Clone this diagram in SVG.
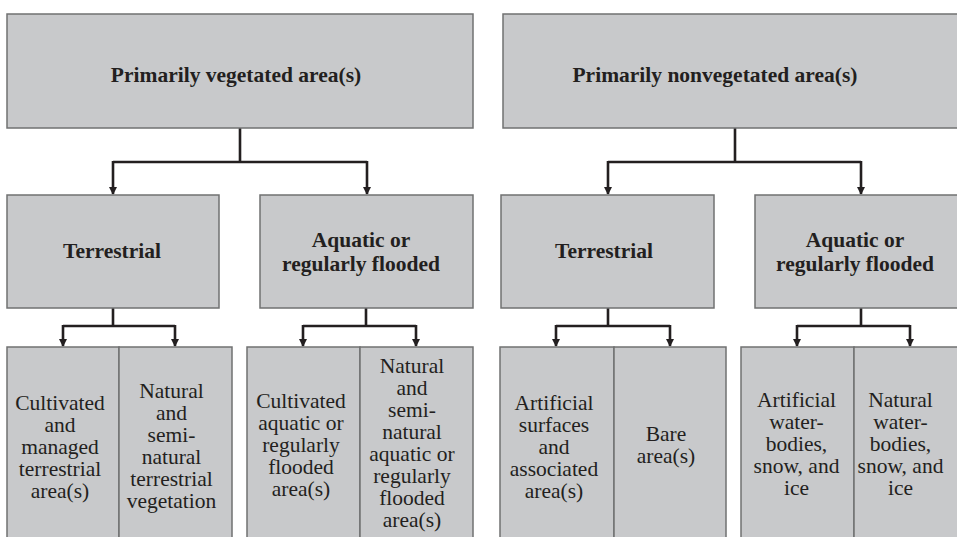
<svg xmlns="http://www.w3.org/2000/svg" width="957" height="537" viewBox="0 0 957 537">
<style>
.box{fill:#c8c9cb;stroke:#707172;stroke-width:1.5}
.h{font-family:"Liberation Serif","Times New Roman",serif;font-weight:bold;font-size:21.5px;fill:#231f20;text-anchor:middle}
.t{font-family:"Liberation Serif","Times New Roman",serif;font-size:21.5px;fill:#231f20;text-anchor:middle}
.c{fill:none;stroke:#231f20;stroke-width:2.6}
</style>
<defs>
<marker id="ah" markerWidth="8" markerHeight="8" refX="7" refY="4" orient="auto" markerUnits="userSpaceOnUse">
<path d="M0,0 L8,4 L0,8 Z" fill="#231f20"/>
</marker>
</defs>
<rect width="957" height="537" fill="#ffffff"/>
<g id="connectors">
<path class="c" d="M240,128 V162 M113,162 H367"/>
<path class="c" d="M113,161 V194" marker-end="url(#ah)"/>
<path class="c" d="M367,161 V194" marker-end="url(#ah)"/>
<path class="c" d="M735,128 V162 M608,162 H861"/>
<path class="c" d="M608,161 V194" marker-end="url(#ah)"/>
<path class="c" d="M861,161 V194" marker-end="url(#ah)"/>
<path class="c" d="M113,308 V326 M63,326 H175"/>
<path class="c" d="M63,325 V346" marker-end="url(#ah)"/>
<path class="c" d="M175,325 V346" marker-end="url(#ah)"/>
<path class="c" d="M366,308 V326 M303,326 H416"/>
<path class="c" d="M303,325 V346" marker-end="url(#ah)"/>
<path class="c" d="M416,325 V346" marker-end="url(#ah)"/>
<path class="c" d="M608,308 V326 M556,326 H670"/>
<path class="c" d="M556,325 V346" marker-end="url(#ah)"/>
<path class="c" d="M670,325 V346" marker-end="url(#ah)"/>
<path class="c" d="M861,308 V326 M797,326 H910"/>
<path class="c" d="M797,325 V346" marker-end="url(#ah)"/>
<path class="c" d="M910,325 V346" marker-end="url(#ah)"/>
</g>
<g id="veg">
<rect class="box" x="7" y="14" width="466" height="114"/>
<text class="h" x="236" y="82">Primarily vegetated area(s)</text>
</g>
<g id="nonveg">
<rect class="box" x="503" y="14" width="470" height="114"/>
<text class="h" x="715" y="82">Primarily nonvegetated area(s)</text>
</g>
<g id="veg-terr">
<rect class="box" x="7" y="195" width="212" height="113"/>
<text class="h" x="112" y="258">Terrestrial</text>
</g>
<g id="veg-aqua">
<rect class="box" x="260" y="195" width="213" height="113"/>
<text class="h" x="361" y="247">Aquatic or</text>
<text class="h" x="361" y="271">regularly flooded</text>
</g>
<g id="nonveg-terr">
<rect class="box" x="501" y="195" width="213" height="113"/>
<text class="h" x="604" y="258">Terrestrial</text>
</g>
<g id="nonveg-aqua">
<rect class="box" x="755" y="195" width="218" height="113"/>
<text class="h" x="855" y="247">Aquatic or</text>
<text class="h" x="855" y="271">regularly flooded</text>
</g>
<g id="b1">
<rect class="box" x="7" y="347" width="112" height="200"/>
<text class="t" x="60" y="410">Cultivated</text>
<text class="t" x="60" y="432">and</text>
<text class="t" x="60" y="454">managed</text>
<text class="t" x="60" y="476">terrestrial</text>
<text class="t" x="60" y="498">area(s)</text>
</g>
<g id="b2">
<rect class="box" x="119" y="347" width="113" height="200"/>
<text class="t" x="171.5" y="398">Natural</text>
<text class="t" x="171.5" y="420">and</text>
<text class="t" x="171.5" y="442">semi-</text>
<text class="t" x="171.5" y="464">natural</text>
<text class="t" x="171.5" y="486">terrestrial</text>
<text class="t" x="171.5" y="508">vegetation</text>
</g>
<g id="b3">
<rect class="box" x="247" y="347" width="113" height="200"/>
<text class="t" x="301" y="408">Cultivated</text>
<text class="t" x="301" y="430">aquatic or</text>
<text class="t" x="301" y="452">regularly</text>
<text class="t" x="301" y="474">flooded</text>
<text class="t" x="301" y="496">area(s)</text>
</g>
<g id="b4">
<rect class="box" x="360" y="347" width="113" height="200"/>
<text class="t" x="412" y="373">Natural</text>
<text class="t" x="412" y="395">and</text>
<text class="t" x="412" y="417">semi-</text>
<text class="t" x="412" y="439">natural</text>
<text class="t" x="412" y="461">aquatic or</text>
<text class="t" x="412" y="483">regularly</text>
<text class="t" x="412" y="505">flooded</text>
<text class="t" x="412" y="527">area(s)</text>
</g>
<g id="b5">
<rect class="box" x="500" y="347" width="114" height="200"/>
<text class="t" x="554" y="410">Artificial</text>
<text class="t" x="554" y="432">surfaces</text>
<text class="t" x="554" y="454">and</text>
<text class="t" x="554" y="476">associated</text>
<text class="t" x="554" y="498">area(s)</text>
</g>
<g id="b6">
<rect class="box" x="614" y="347" width="112" height="200"/>
<text class="t" x="666" y="441">Bare</text>
<text class="t" x="666" y="463">area(s)</text>
</g>
<g id="b7">
<rect class="box" x="741" y="347" width="113" height="200"/>
<text class="t" x="796.5" y="407">Artificial</text>
<text class="t" x="796.5" y="429">water-</text>
<text class="t" x="796.5" y="451">bodies,</text>
<text class="t" x="796.5" y="473">snow, and</text>
<text class="t" x="796.5" y="495">ice</text>
</g>
<g id="b8">
<rect class="box" x="854" y="347" width="120" height="200"/>
<text class="t" x="900.5" y="407">Natural</text>
<text class="t" x="900.5" y="429">water-</text>
<text class="t" x="900.5" y="451">bodies,</text>
<text class="t" x="900.5" y="473">snow, and</text>
<text class="t" x="900.5" y="495">ice</text>
</g>
</svg>
